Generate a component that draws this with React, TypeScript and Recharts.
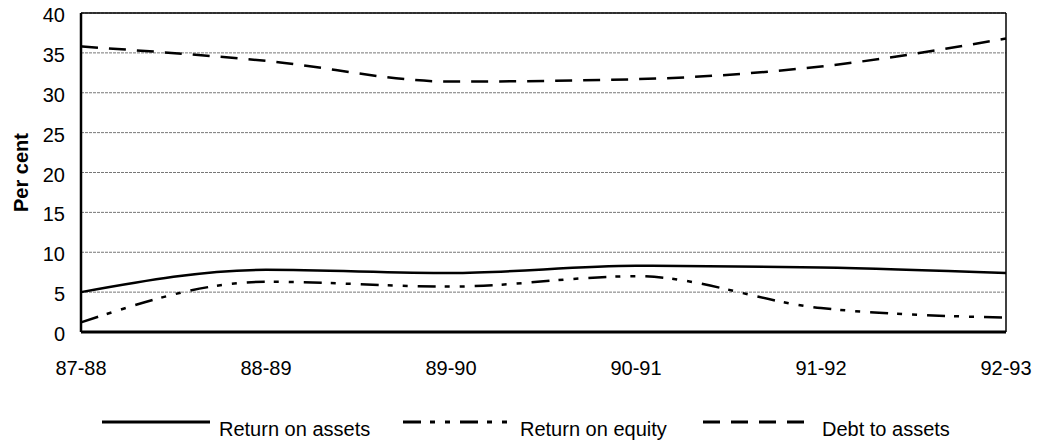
import React from "react";
import { LineChart, Line, XAxis, YAxis, CartesianGrid, ReferenceLine } from "recharts";

const categories = ["87-88", "88-89", "89-90", "90-91", "91-92", "92-93"];
const returnOnAssets = [5.0, 7.8, 7.4, 8.3, 8.1, 7.4];
const returnOnEquity = [1.2, 6.3, 5.7, 7.0, 3.0, 1.8];
const debtToAssets = [35.8, 34.0, 31.4, 31.7, 33.3, 36.8];
const yTicks = [0, 5, 10, 15, 20, 25, 30, 35, 40];

const FONT = "'Liberation Sans', Arial, sans-serif";

const series = [
  { key: "roa", label: "Return on assets", dash: undefined as string | undefined },
  { key: "roe", label: "Return on equity", dash: "18 9 5 10 5 10" },
  { key: "dta", label: "Debt to assets", dash: "17 11" },
];

const data = categories.map((period, i) => ({
  period,
  roa: returnOnAssets[i],
  roe: returnOnEquity[i],
  dta: debtToAssets[i],
}));

function XTick({ x, y, payload }: any) {
  return (
    <text x={x} y={y + 43} textAnchor="middle" fontSize={20} fontFamily={FONT} fill="#000">
      {payload.value}
    </text>
  );
}

function YTick({ x, y, payload }: any) {
  return (
    <text x={x} y={y + 9} textAnchor="end" fontSize={20} fontFamily={FONT} fill="#000">
      {payload.value}
    </text>
  );
}

// legend sits below the plot, drawn by hand so it doesn't squeeze the chart
const legendPos = [
  { x1: 102, x2: 210, tx: 219 },
  { x1: 403, x2: 510, tx: 520 },
  { x1: 703, x2: 806, tx: 822 },
];

export default function App() {
  return (
    <div style={{ position: "absolute", left: 0, top: 0, width: 1039, height: 443, background: "#fff" }}>
      <LineChart width={1039} height={443} data={data} margin={{ top: 13, right: 33, left: 0, bottom: 71 }}>
        <CartesianGrid vertical={false} stroke="#777" strokeDasharray="3 1" strokeWidth={1} />
        <XAxis
          dataKey="period"
          height={40}
          tickSize={0}
          tickMargin={0}
          tick={<XTick />}
          axisLine={{ stroke: "#000", strokeWidth: 3 }}
          interval={0}
        />
        <YAxis
          width={81}
          domain={[0, 40]}
          ticks={yTicks}
          tickSize={0}
          tickMargin={16}
          tick={<YTick />}
          axisLine={{ stroke: "#000", strokeWidth: 2.5 }}
          label={{
            value: "Per cent",
            angle: -90,
            position: "insideLeft",
            offset: 21,
            style: { fontSize: 20, fontWeight: 700, fontFamily: FONT, fill: "#000", textAnchor: "middle" },
          }}
        />
        <ReferenceLine y={40} stroke="#000" strokeWidth={1.5} />
        <ReferenceLine x="92-93" stroke="#000" strokeWidth={1.5} />
        {series.map((s) => (
          <Line
            key={s.key}
            type="monotone"
            dataKey={s.key}
            name={s.label}
            stroke="#000"
            strokeWidth={2.5}
            strokeDasharray={s.dash}
            dot={false}
            activeDot={false}
            isAnimationActive={false}
          />
        ))}
      </LineChart>
      <svg width={1039} height={43} style={{ position: "absolute", left: 0, top: 400 }}>
        {series.map((s, i) => (
          <g key={s.key}>
            <line x1={legendPos[i].x1} x2={legendPos[i].x2} y1={22} y2={22} stroke="#000" strokeWidth={3} strokeDasharray={s.dash} />
            <text x={legendPos[i].tx} y={36} fontSize={20} fontFamily={FONT} fill="#000">
              {s.label}
            </text>
          </g>
        ))}
      </svg>
    </div>
  );
}
